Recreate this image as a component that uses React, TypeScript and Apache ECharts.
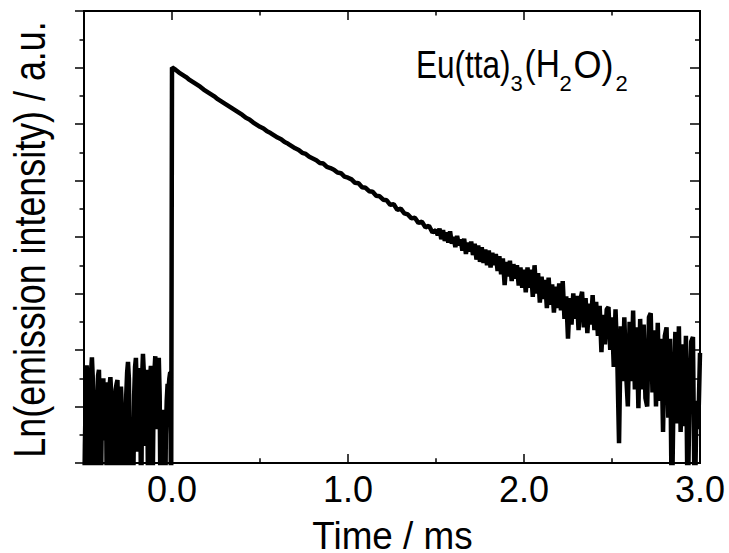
import React, { useEffect, useRef } from "react";
import * as echarts from "echarts";

// ---- data ----
// pre-trigger noise, t = -0.500 ... -0.005 ms (step 0.005)
const preStart = -0.5;
const preStep = 0.005;
const preValues = [
  -1.0, 0.3, 1.2, 1.73, 1.4, 0.2, -1.0, 0.8, 1.6, 1.87,
  1.5, -0.5, 0.6, 1.1, -1.0, 1.2, 1.55, 1.65, 0.9, -1.0,
  0.5, 1.3, 1.5, 0.4, 1.2, 1.43, -1.0, 0.7, 1.1, 1.35,
  1.52, 1.2, -1.0, 0.2, -0.5, 0.9, 1.3, 1.4, 1.47, 0.6,
  -1.0, 1.1, 1.35, 1.0, -1.0, -1.5, 0.3, -1.0, 1.2, 1.6,
  1.79, 1.5, 0.4, -1.0, 0.5, 0.8, -0.5, 1.2, 1.7, 1.86,
  1.3, 0.2, 1.4, 1.68, 0.9, -1.0, 1.5, 1.93, 1.6, 0.3,
  1.2, 1.65, 1.1, -1.0, 0.8, 1.5, 1.72, 1.2, -0.5, 1.0,
  1.6, 1.89, 1.4, 0.6, 1.5, 1.86, 1.2, -1.0, 0.3, 0.94,
  0.4, -1.0, -1.5, 0.5, 1.1, 1.4, 1.3, 1.5, 1.61, -1.0,
];

// decay head, t = 0.00 ... 1.50 ms (step 0.02)
const headStart = 0;
const headStep = 0.02;
const headValues = [
  7.0, 6.96, 6.91, 6.87, 6.83, 6.78, 6.74, 6.7, 6.66, 6.61,
  6.57, 6.53, 6.49, 6.44, 6.4, 6.36, 6.32, 6.28, 6.24, 6.2,
  6.16, 6.11, 6.08, 6.03, 5.99, 5.95, 5.92, 5.87, 5.84, 5.8,
  5.76, 5.73, 5.68, 5.65, 5.61, 5.57, 5.54, 5.49, 5.47, 5.42,
  5.39, 5.36, 5.31, 5.3, 5.24, 5.22, 5.19, 5.14, 5.13, 5.07,
  5.05, 5.02, 4.96, 4.95, 4.88, 4.87, 4.81, 4.8, 4.73, 4.72,
  4.66, 4.65, 4.57, 4.58, 4.48, 4.5, 4.42, 4.4, 4.33, 4.34,
  4.25, 4.27, 4.17, 4.2, 4.08, 4.12,
];

// decay tail, t = 1.51 ... 3.00 ms (step 0.01)
const tailStart = 1.51;
const tailStep = 0.01;
const tailValues = [
  4.03, 4.15, 3.96, 4.12, 3.93, 4.08, 3.9, 4.1, 3.88, 4.0,
  3.82, 4.02, 3.85, 3.96, 3.76, 3.97, 3.7, 3.9, 3.74, 3.92,
  3.68, 3.88, 3.6, 3.85, 3.56, 3.82, 3.54, 3.78, 3.5, 3.76,
  3.46, 3.72, 3.5, 3.7, 3.4, 3.66, 3.34, 3.62, 3.15, 3.56,
  3.3, 3.58, 3.22, 3.52, 3.26, 3.5, 3.14, 3.46, 3.1, 3.42,
  3.02, 3.46, 3.1, 3.42, 2.94, 3.5, 3.0, 3.36, 2.84, 3.3,
  2.9, 3.24, 2.74, 3.28, 2.8, 3.16, 2.66, 3.12, 2.74, 3.18,
  2.7, 3.22, 2.55, 2.95, 2.2, 2.92, 2.45, 3.0, 2.55, 2.96,
  2.35, 2.88, 3.03, 2.4, 2.92, 2.3, 2.82, 2.45, 2.97, 2.35,
  2.85, 2.25, 2.78, 1.96, 2.62, 2.1, 2.72, 2.76, 2.0, 2.58,
  1.7, 2.72, 1.85, 0.35, 2.42, 1.45, 2.58, 1.6, 1.0, 2.5,
  1.45, 2.7, 1.3, 2.4, 0.97, 2.55, 1.3, 2.45, 1.15, 1.0,
  2.58, 2.65, 1.25, 2.35, 1.0, 2.48, 1.1, 2.2, 0.55, 2.25,
  2.4, 0.8, 2.2, -1.0, 1.3, 2.32, 0.7, 2.42, 0.55, 2.1,
  0.65, 2.25, -1.0, 1.2, 2.15, 2.23, -1.0, 1.1, 0.6, 1.95,
];

const xMin = -0.5;
const xMax = 3.0;
const yMin = 0;
const yMax = 8;
const xMajorTicks = [0, 1, 2, 3];
const xMinorTicks = [0.5, 1.5, 2.5];
const xTitle = "Time / ms";
const yTitle = "Ln(emission intensity) / a.u.";
const labelParts = ["Eu(tta)", "3", "(H", "2", "O)", "2"];

const FONT = '"Liberation Sans", Arial, Helvetica, sans-serif';

export default function App() {
  const ref = useRef<HTMLDivElement>(null);

  useEffect(() => {
    const chart = echarts.init(ref.current as HTMLDivElement, null, { renderer: "svg" });

    const data: number[][] = [];
    const addSegment = (start: number, step: number, values: number[]) =>
      values.forEach((v, i) => data.push([+(start + i * step).toFixed(4), v]));
    addSegment(preStart, preStep, preValues);
    addSegment(headStart, headStep, headValues);
    addSegment(tailStart, tailStep, tailValues);

    const axisLine = { show: true, onZero: false, lineStyle: { color: "#000", width: 2 } };
    const tickLine = { color: "#000", width: 1.5 };

    const makeX = (position: string, ticks: number[], len: number, labels: boolean) => ({
      type: "value",
      position,
      min: xMin,
      max: xMax,
      interval: 0.5,
      axisLine,
      splitLine: { show: false },
      axisTick: { show: true, inside: true, length: len, customValues: ticks, lineStyle: tickLine },
      axisLabel: labels
        ? {
            show: true,
            customValues: xMajorTicks,
            formatter: (v: number) => v.toFixed(1),
            fontSize: 36,
            fontFamily: FONT,
            color: "#000",
            margin: 8,
          }
        : { show: false },
    });

    const makeY = (position: string, inside: boolean, len: number, minorLen: number) => ({
      type: "value",
      position,
      min: yMin,
      max: yMax,
      interval: 1,
      axisLine,
      splitLine: { show: false },
      axisLabel: { show: false },
      axisTick: { show: true, inside, length: len, lineStyle: tickLine },
      minorTick: { show: true, splitNumber: 2, length: minorLen, lineStyle: tickLine },
      minorSplitLine: { show: false },
    });

    const mainY = 64.5;
    const subY = 83.1;
    const partX = [416, 510.5, 524.5, 559.5, 573.4, 615.5];
    const partScale = [0.83, 1, 0.88, 1, 0.95, 1];
    const isSub = [false, true, false, true, false, true];

    const graphic: any[] = [
      {
        type: "text",
        x: 30,
        y: 239.5,
        rotation: Math.PI / 2,
        scaleX: 0.815,
        silent: true,
        style: {
          text: yTitle,
          fontSize: 44,
          lineHeight: 36,
          fontFamily: FONT,
          fill: "#000",
          align: "center",
          verticalAlign: "middle",
          textAlign: "center",
          textVerticalAlign: "middle",
        },
      },
      {
        type: "text",
        x: 392.5,
        y: 535.5,
        scaleX: 0.945,
        silent: true,
        style: {
          text: xTitle,
          fontSize: 39,
          lineHeight: 30,
          fontFamily: FONT,
          fill: "#000",
          align: "center",
          verticalAlign: "middle",
          textAlign: "center",
          textVerticalAlign: "middle",
        },
      },
    ];
    labelParts.forEach((t, i) => {
      graphic.push({
        type: "text",
        x: partX[i],
        y: isSub[i] ? subY : mainY,
        scaleX: partScale[i],
        silent: true,
        style: {
          text: t,
          fontSize: isSub[i] ? 22 : 38,
          fontFamily: FONT,
          fill: "#000",
          align: "left",
          verticalAlign: "middle",
          textAlign: "left",
          textVerticalAlign: "middle",
        },
      });
    });

    chart.setOption({
      animation: false,
      backgroundColor: "#fff",
      grid: { left: 84, right: 29, top: 11, bottom: 90, containLabel: false },
      xAxis: [
        makeX("bottom", xMajorTicks, 9, true),
        makeX("bottom", xMinorTicks, 4.7, false),
        makeX("top", xMajorTicks, 9, false),
        makeX("top", xMinorTicks, 4.5, false),
      ],
      yAxis: [makeY("left", false, 9, 4.5), makeY("right", true, 10, 5)],
      series: [
        {
          type: "line",
          xAxisIndex: 0,
          yAxisIndex: 0,
          data,
          symbol: "none",
          showSymbol: false,
          clip: true,
          silent: true,
          lineStyle: { color: "#000", width: 4.5 },
        },
      ],
      graphic,
    });

    return () => chart.dispose();
  }, []);

  return (
    <div
      ref={ref}
      style={{ position: "fixed", left: 0, top: 0, width: 729, height: 553, background: "#fff" }}
    />
  );
}
